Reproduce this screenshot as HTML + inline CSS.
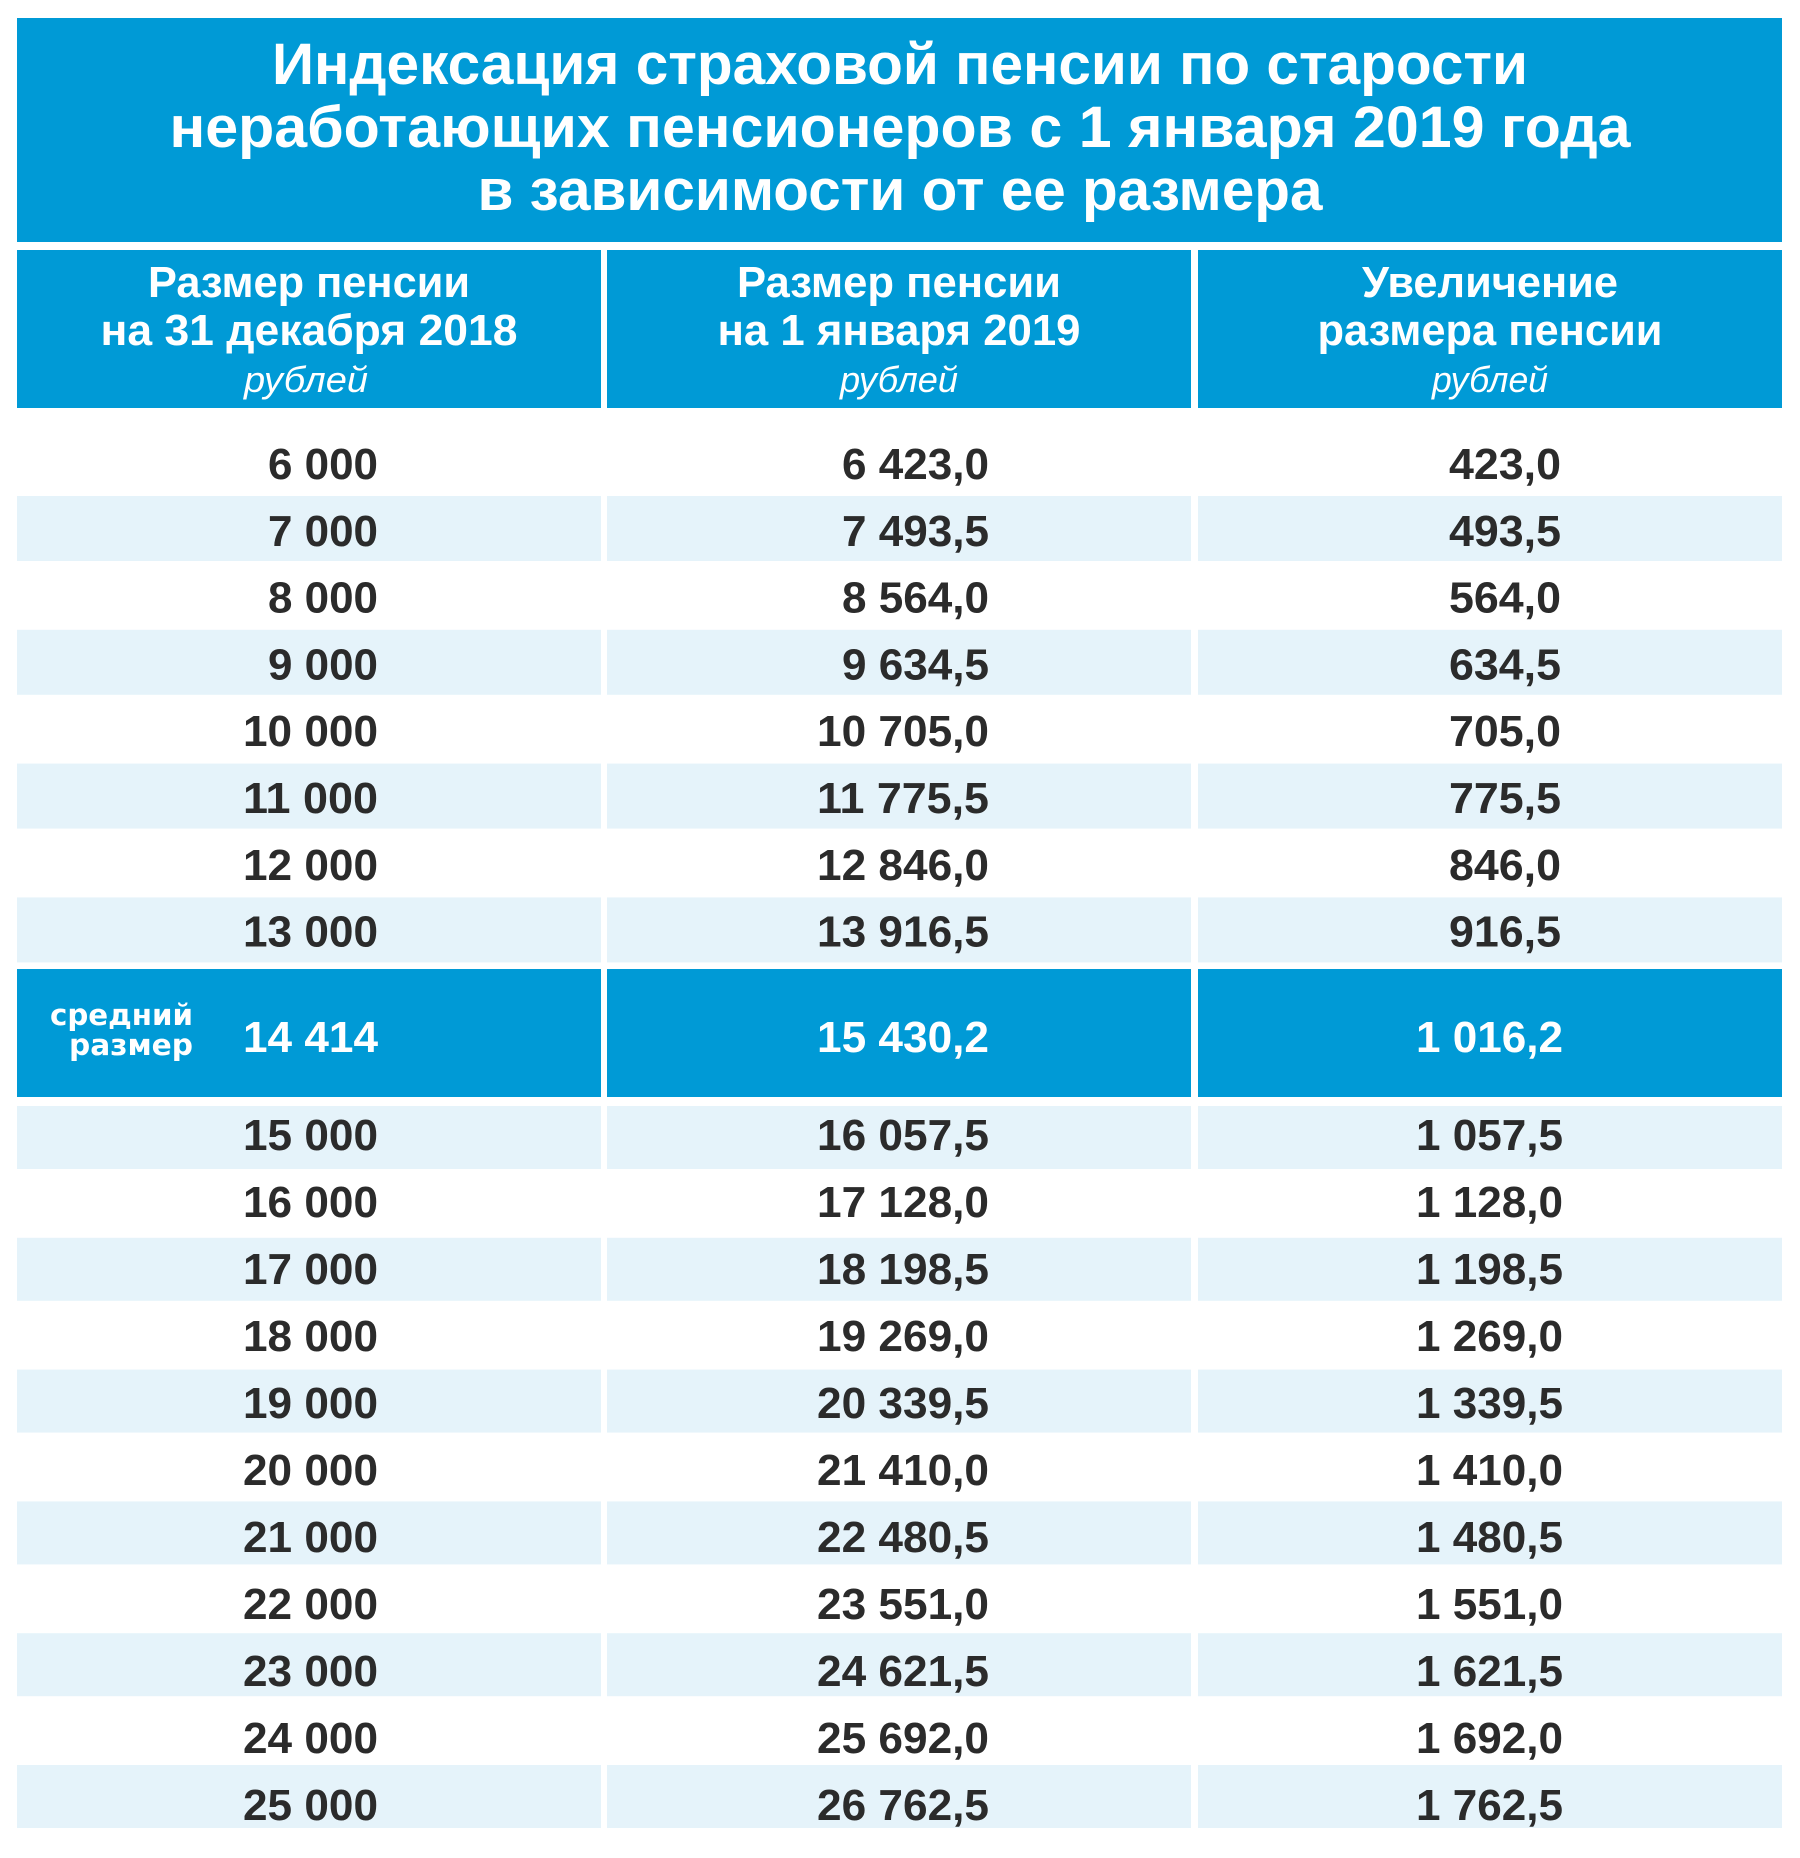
<!DOCTYPE html>
<html lang="ru">
<head>
<meta charset="utf-8">
<style>
  html,body{margin:0;padding:0;background:#fff;}
  svg{display:block;}
  .t{font-family:"Liberation Sans","Noto Sans CJK SC",sans-serif;font-weight:bold;}
  .n{font-family:"Liberation Sans",sans-serif;font-weight:bold;font-size:44px;fill:#2b2b2b;}
  .w{fill:#ffffff;}
  .i{font-family:"Liberation Sans",sans-serif;font-style:italic;font-weight:normal;font-size:36px;fill:#ffffff;}
  .s{font-family:"DejaVu Sans","Liberation Sans",sans-serif;font-weight:bold;font-size:29px;fill:#ffffff;}
</style>
</head>
<body>
<svg width="1800" height="1858" viewBox="0 0 1800 1858" xmlns="http://www.w3.org/2000/svg">
  <rect x="0" y="0" width="1800" height="1858" fill="#ffffff"/>

  <!-- Title box -->
  <rect x="17" y="18" width="1765" height="224" fill="#009ad6"/>
  <g class="t" fill="#ffffff" font-size="58" text-anchor="middle">
    <text x="900" y="84" textLength="1256" lengthAdjust="spacingAndGlyphs">Индексация страховой пенсии по старости</text>
    <text x="900" y="147" textLength="1461" lengthAdjust="spacingAndGlyphs">неработающих пенсионеров с 1 января 2019 года</text>
    <text x="900" y="210" textLength="845" lengthAdjust="spacingAndGlyphs">в зависимости от ее размера</text>
  </g>

  <!-- Header boxes -->
  <rect x="17" y="250" width="584" height="158" fill="#009ad6"/>
  <rect x="607" y="250" width="584" height="158" fill="#009ad6"/>
  <rect x="1198" y="250" width="584" height="158" fill="#009ad6"/>
  <g class="t" fill="#ffffff" font-size="44" text-anchor="middle">
    <text x="309" y="297" textLength="322" lengthAdjust="spacingAndGlyphs">Размер пенсии</text>
    <text x="309" y="345" textLength="417" lengthAdjust="spacingAndGlyphs">на 31 декабря 2018</text>
    <text x="899" y="297" textLength="324" lengthAdjust="spacingAndGlyphs">Размер пенсии</text>
    <text x="899" y="345" textLength="363" lengthAdjust="spacingAndGlyphs">на 1 января 2019</text>
    <text x="1490" y="297" textLength="256" lengthAdjust="spacingAndGlyphs">Увеличение</text>
    <text x="1490" y="345" textLength="345" lengthAdjust="spacingAndGlyphs">размера пенсии</text>
  </g>
  <g class="i" text-anchor="middle">
    <text x="306" y="392" textLength="124" lengthAdjust="spacingAndGlyphs">рублей</text>
    <text x="899" y="392" textLength="118" lengthAdjust="spacingAndGlyphs">рублей</text>
    <text x="1490" y="392" textLength="116" lengthAdjust="spacingAndGlyphs">рублей</text>
  </g>

  <!-- Upper light bands (7000, 9000, 11000, 13000) -->
  <g fill="#e5f3fa">
    <rect x="17" y="496" width="584" height="65"/><rect x="607" y="496" width="584" height="65"/><rect x="1198" y="496" width="584" height="65"/>
    <rect x="17" y="629.8" width="584" height="65"/><rect x="607" y="629.8" width="584" height="65"/><rect x="1198" y="629.8" width="584" height="65"/>
    <rect x="17" y="763.6" width="584" height="65"/><rect x="607" y="763.6" width="584" height="65"/><rect x="1198" y="763.6" width="584" height="65"/>
    <rect x="17" y="897.4" width="584" height="65"/><rect x="607" y="897.4" width="584" height="65"/><rect x="1198" y="897.4" width="584" height="65"/>
  </g>

  <!-- Highlight row -->
  <rect x="17" y="969" width="584" height="128" fill="#009ad6"/>
  <rect x="607" y="969" width="584" height="128" fill="#009ad6"/>
  <rect x="1198" y="969" width="584" height="128" fill="#009ad6"/>

  <!-- Lower light bands -->
  <g fill="#e5f3fa">
    <rect x="17" y="1106" width="584" height="63"/><rect x="607" y="1106" width="584" height="63"/><rect x="1198" y="1106" width="584" height="63"/>
    <rect x="17" y="1237.8" width="584" height="63"/><rect x="607" y="1237.8" width="584" height="63"/><rect x="1198" y="1237.8" width="584" height="63"/>
    <rect x="17" y="1369.6" width="584" height="63"/><rect x="607" y="1369.6" width="584" height="63"/><rect x="1198" y="1369.6" width="584" height="63"/>
    <rect x="17" y="1501.4" width="584" height="63"/><rect x="607" y="1501.4" width="584" height="63"/><rect x="1198" y="1501.4" width="584" height="63"/>
    <rect x="17" y="1633.2" width="584" height="63"/><rect x="607" y="1633.2" width="584" height="63"/><rect x="1198" y="1633.2" width="584" height="63"/>
    <rect x="17" y="1765" width="584" height="63"/><rect x="607" y="1765" width="584" height="63"/><rect x="1198" y="1765" width="584" height="63"/>
  </g>

  <!-- Upper rows numbers -->
  <g class="n" text-anchor="end">
    <text x="378" y="479" textLength="110" lengthAdjust="spacingAndGlyphs">6 000</text>
    <text x="989" y="479" textLength="147" lengthAdjust="spacingAndGlyphs">6 423,0</text>
    <text x="1561" y="479" textLength="112" lengthAdjust="spacingAndGlyphs">423,0</text>

    <text x="378" y="545.8" textLength="110" lengthAdjust="spacingAndGlyphs">7 000</text>
    <text x="989" y="545.8" textLength="147" lengthAdjust="spacingAndGlyphs">7 493,5</text>
    <text x="1561" y="545.8" textLength="112" lengthAdjust="spacingAndGlyphs">493,5</text>

    <text x="378" y="612.6" textLength="110" lengthAdjust="spacingAndGlyphs">8 000</text>
    <text x="989" y="612.6" textLength="147" lengthAdjust="spacingAndGlyphs">8 564,0</text>
    <text x="1561" y="612.6" textLength="112" lengthAdjust="spacingAndGlyphs">564,0</text>

    <text x="378" y="679.4" textLength="110" lengthAdjust="spacingAndGlyphs">9 000</text>
    <text x="989" y="679.4" textLength="147" lengthAdjust="spacingAndGlyphs">9 634,5</text>
    <text x="1561" y="679.4" textLength="112" lengthAdjust="spacingAndGlyphs">634,5</text>

    <text x="378" y="746.2" textLength="135" lengthAdjust="spacingAndGlyphs">10 000</text>
    <text x="989" y="746.2" textLength="172" lengthAdjust="spacingAndGlyphs">10 705,0</text>
    <text x="1561" y="746.2" textLength="112" lengthAdjust="spacingAndGlyphs">705,0</text>

    <text x="378" y="813" textLength="135" lengthAdjust="spacingAndGlyphs">11 000</text>
    <text x="989" y="813" textLength="172" lengthAdjust="spacingAndGlyphs">11 775,5</text>
    <text x="1561" y="813" textLength="112" lengthAdjust="spacingAndGlyphs">775,5</text>

    <text x="378" y="879.8" textLength="135" lengthAdjust="spacingAndGlyphs">12 000</text>
    <text x="989" y="879.8" textLength="172" lengthAdjust="spacingAndGlyphs">12 846,0</text>
    <text x="1561" y="879.8" textLength="112" lengthAdjust="spacingAndGlyphs">846,0</text>

    <text x="378" y="946.6" textLength="135" lengthAdjust="spacingAndGlyphs">13 000</text>
    <text x="989" y="946.6" textLength="172" lengthAdjust="spacingAndGlyphs">13 916,5</text>
    <text x="1561" y="946.6" textLength="112" lengthAdjust="spacingAndGlyphs">916,5</text>
  </g>

  <!-- Highlight row text -->
  <g class="s">
    <text x="50" y="1025" textLength="143" lengthAdjust="spacingAndGlyphs">средний</text>
    <text x="69" y="1055" textLength="124" lengthAdjust="spacingAndGlyphs">размер</text>
  </g>
  <g class="n w" text-anchor="end">
    <text x="378" y="1052" textLength="135" lengthAdjust="spacingAndGlyphs" fill="#ffffff">14 414</text>
    <text x="989" y="1052" textLength="172" lengthAdjust="spacingAndGlyphs" fill="#ffffff">15 430,2</text>
    <text x="1563" y="1052" textLength="147" lengthAdjust="spacingAndGlyphs" fill="#ffffff">1 016,2</text>
  </g>

  <!-- Lower rows numbers -->
  <g class="n" text-anchor="end">
    <text x="378" y="1150" textLength="135" lengthAdjust="spacingAndGlyphs">15 000</text>
    <text x="989" y="1150" textLength="172" lengthAdjust="spacingAndGlyphs">16 057,5</text>
    <text x="1563" y="1150" textLength="147" lengthAdjust="spacingAndGlyphs">1 057,5</text>

    <text x="378" y="1217" textLength="135" lengthAdjust="spacingAndGlyphs">16 000</text>
    <text x="989" y="1217" textLength="172" lengthAdjust="spacingAndGlyphs">17 128,0</text>
    <text x="1563" y="1217" textLength="147" lengthAdjust="spacingAndGlyphs">1 128,0</text>

    <text x="378" y="1284" textLength="135" lengthAdjust="spacingAndGlyphs">17 000</text>
    <text x="989" y="1284" textLength="172" lengthAdjust="spacingAndGlyphs">18 198,5</text>
    <text x="1563" y="1284" textLength="147" lengthAdjust="spacingAndGlyphs">1 198,5</text>

    <text x="378" y="1351" textLength="135" lengthAdjust="spacingAndGlyphs">18 000</text>
    <text x="989" y="1351" textLength="172" lengthAdjust="spacingAndGlyphs">19 269,0</text>
    <text x="1563" y="1351" textLength="147" lengthAdjust="spacingAndGlyphs">1 269,0</text>

    <text x="378" y="1418" textLength="135" lengthAdjust="spacingAndGlyphs">19 000</text>
    <text x="989" y="1418" textLength="172" lengthAdjust="spacingAndGlyphs">20 339,5</text>
    <text x="1563" y="1418" textLength="147" lengthAdjust="spacingAndGlyphs">1 339,5</text>

    <text x="378" y="1485" textLength="135" lengthAdjust="spacingAndGlyphs">20 000</text>
    <text x="989" y="1485" textLength="172" lengthAdjust="spacingAndGlyphs">21 410,0</text>
    <text x="1563" y="1485" textLength="147" lengthAdjust="spacingAndGlyphs">1 410,0</text>

    <text x="378" y="1552" textLength="135" lengthAdjust="spacingAndGlyphs">21 000</text>
    <text x="989" y="1552" textLength="172" lengthAdjust="spacingAndGlyphs">22 480,5</text>
    <text x="1563" y="1552" textLength="147" lengthAdjust="spacingAndGlyphs">1 480,5</text>

    <text x="378" y="1619" textLength="135" lengthAdjust="spacingAndGlyphs">22 000</text>
    <text x="989" y="1619" textLength="172" lengthAdjust="spacingAndGlyphs">23 551,0</text>
    <text x="1563" y="1619" textLength="147" lengthAdjust="spacingAndGlyphs">1 551,0</text>

    <text x="378" y="1686" textLength="135" lengthAdjust="spacingAndGlyphs">23 000</text>
    <text x="989" y="1686" textLength="172" lengthAdjust="spacingAndGlyphs">24 621,5</text>
    <text x="1563" y="1686" textLength="147" lengthAdjust="spacingAndGlyphs">1 621,5</text>

    <text x="378" y="1753" textLength="135" lengthAdjust="spacingAndGlyphs">24 000</text>
    <text x="989" y="1753" textLength="172" lengthAdjust="spacingAndGlyphs">25 692,0</text>
    <text x="1563" y="1753" textLength="147" lengthAdjust="spacingAndGlyphs">1 692,0</text>

    <text x="378" y="1820" textLength="135" lengthAdjust="spacingAndGlyphs">25 000</text>
    <text x="989" y="1820" textLength="172" lengthAdjust="spacingAndGlyphs">26 762,5</text>
    <text x="1563" y="1820" textLength="147" lengthAdjust="spacingAndGlyphs">1 762,5</text>
  </g>
</svg>
</body>
</html>
